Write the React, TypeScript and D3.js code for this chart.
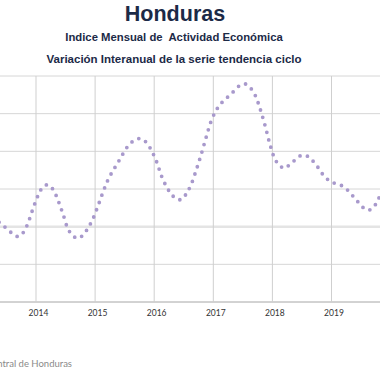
import React from "react";
import * as d3 from "d3";

// Data: monthly year-on-year variation (%) of the trend-cycle series, starting May 2013
const startYear = 2013;
const startMonth = 5; // May
const values: number[] = [
  2.12, 2.01, 1.9, 1.78, 1.74, 1.86, 2.14, 2.52,
  2.85, 3.07, 3.11, 2.98, 2.69, 2.33, 1.94, 1.76, 1.69, 1.77, 1.95, 2.19,
  2.52, 2.88, 3.21, 3.46, 3.67, 3.9, 4.11, 4.25, 4.33, 4.33, 4.22, 4.01,
  3.72, 3.34, 3.06, 2.86, 2.74, 2.72, 2.87, 3.12, 3.49, 3.9, 4.35, 4.78,
  5.07, 5.26, 5.39, 5.51, 5.64, 5.76, 5.79, 5.69, 5.49, 5.13, 4.69, 4.19,
  3.8, 3.62, 3.55, 3.65, 3.76, 3.87, 3.9, 3.84, 3.7, 3.53, 3.34, 3.23,
  3.16, 3.12, 3.06, 2.94, 2.79, 2.64, 2.5, 2.44, 2.51, 2.73, 2.97,
];
const gridYears: number[] = [2013, 2014, 2015, 2016, 2017, 2018, 2019, 2020];
const labelYears: number[] = [2014, 2015, 2016, 2017, 2018, 2019];
const yTicks: number[] = [0, 1, 2, 3, 4, 5, 6];
const baseLineValue = 2;

const title = "Honduras";
const subtitle1 = "Indice Mensual de  Actividad Económica";
const subtitle2 = "Variación Interanual de la serie tendencia ciclo";
const source = "Fuente: Banco Central de Honduras";

export default function App() {
  const W = 380;
  const H = 380;
  const x = d3.scaleLinear().domain([2014, 2020]).range([36, 36 + 6 * 59.1]);
  const y = d3.scaleLinear().domain([0, 6]).range([302, 76]);

  const pts = values.map((v, i) => {
    const mIdx = startMonth - 1 + i;
    const t = startYear + (mIdx + 0.5) / 12;
    return [x(t), y(v)] as [number, number];
  });
  const line = d3.line().curve(d3.curveCatmullRom.alpha(0.5));
  const path = line(pts) || "";

  const font = "'Liberation Sans', Arial, sans-serif";
  const navy = "#1c2a47";

  return (
    <svg
      width={W}
      height={H}
      style={{ position: "absolute", left: 0, top: 0, background: "#fff" }}
    >
      <rect x={0} y={0} width={W} height={H} fill="#fff" />
      {/* horizontal gridlines */}
      {yTicks.map((t) => (
        <line
          key={"h" + t}
          x1={-20}
          x2={W + 20}
          y1={y(t)}
          y2={y(t)}
          stroke={t === 0 ? "#a6a6a6" : "#d6d6d6"}
          strokeWidth={1}
        />
      ))}
      <line
        x1={-20}
        x2={W + 20}
        y1={y(baseLineValue)}
        y2={y(baseLineValue)}
        stroke="#e4e4e4"
        strokeWidth={2.5}
      />
      {/* vertical gridlines */}
      {gridYears.map((yr) => (
        <line
          key={"v" + yr}
          x1={x(yr)}
          x2={x(yr)}
          y1={y(6)}
          y2={y(0)}
          stroke="#cfcfcf"
          strokeWidth={1}
        />
      ))}
      {/* dotted series line */}
      <path
        d={path}
        fill="none"
        stroke="#a899cc"
        strokeWidth={3.8}
        strokeLinecap="round"
        strokeDasharray="0 7.7"
      />
      {/* x tick labels */}
      {labelYears.map((yr) => (
        <text
          key={"t" + yr}
          x={x(yr + 1 / 24)}
          y={315.5}
          textAnchor="middle"
          fontFamily="Lato, 'Open Sans', sans-serif"
          fontSize={8.5}
          fill="#333"
        >
          {yr}
        </text>
      ))}
      {/* titles */}
      <text
        x={175}
        y={21}
        textAnchor="middle"
        fontFamily={font}
        fontWeight="bold"
        fontSize={21.5}
        fill={navy}
      >
        {title}
      </text>
      <text
        x={174}
        y={41}
        textAnchor="middle"
        fontFamily={font}
        fontWeight="bold"
        fontSize={11.3}
        fill={navy}
        style={{ whiteSpace: "pre" }}
      >
        {subtitle1}
      </text>
      <text
        x={174}
        y={63}
        textAnchor="middle"
        fontFamily={font}
        fontWeight="bold"
        fontSize={11.5}
        fill={navy}
      >
        {subtitle2}
      </text>
      <text
        x={72}
        y={367}
        textAnchor="end"
        fontFamily="Lato, 'Open Sans', sans-serif"
        fontSize={9.5}
        fill="#8a8a8a"
      >
        {source}
      </text>
    </svg>
  );
}
